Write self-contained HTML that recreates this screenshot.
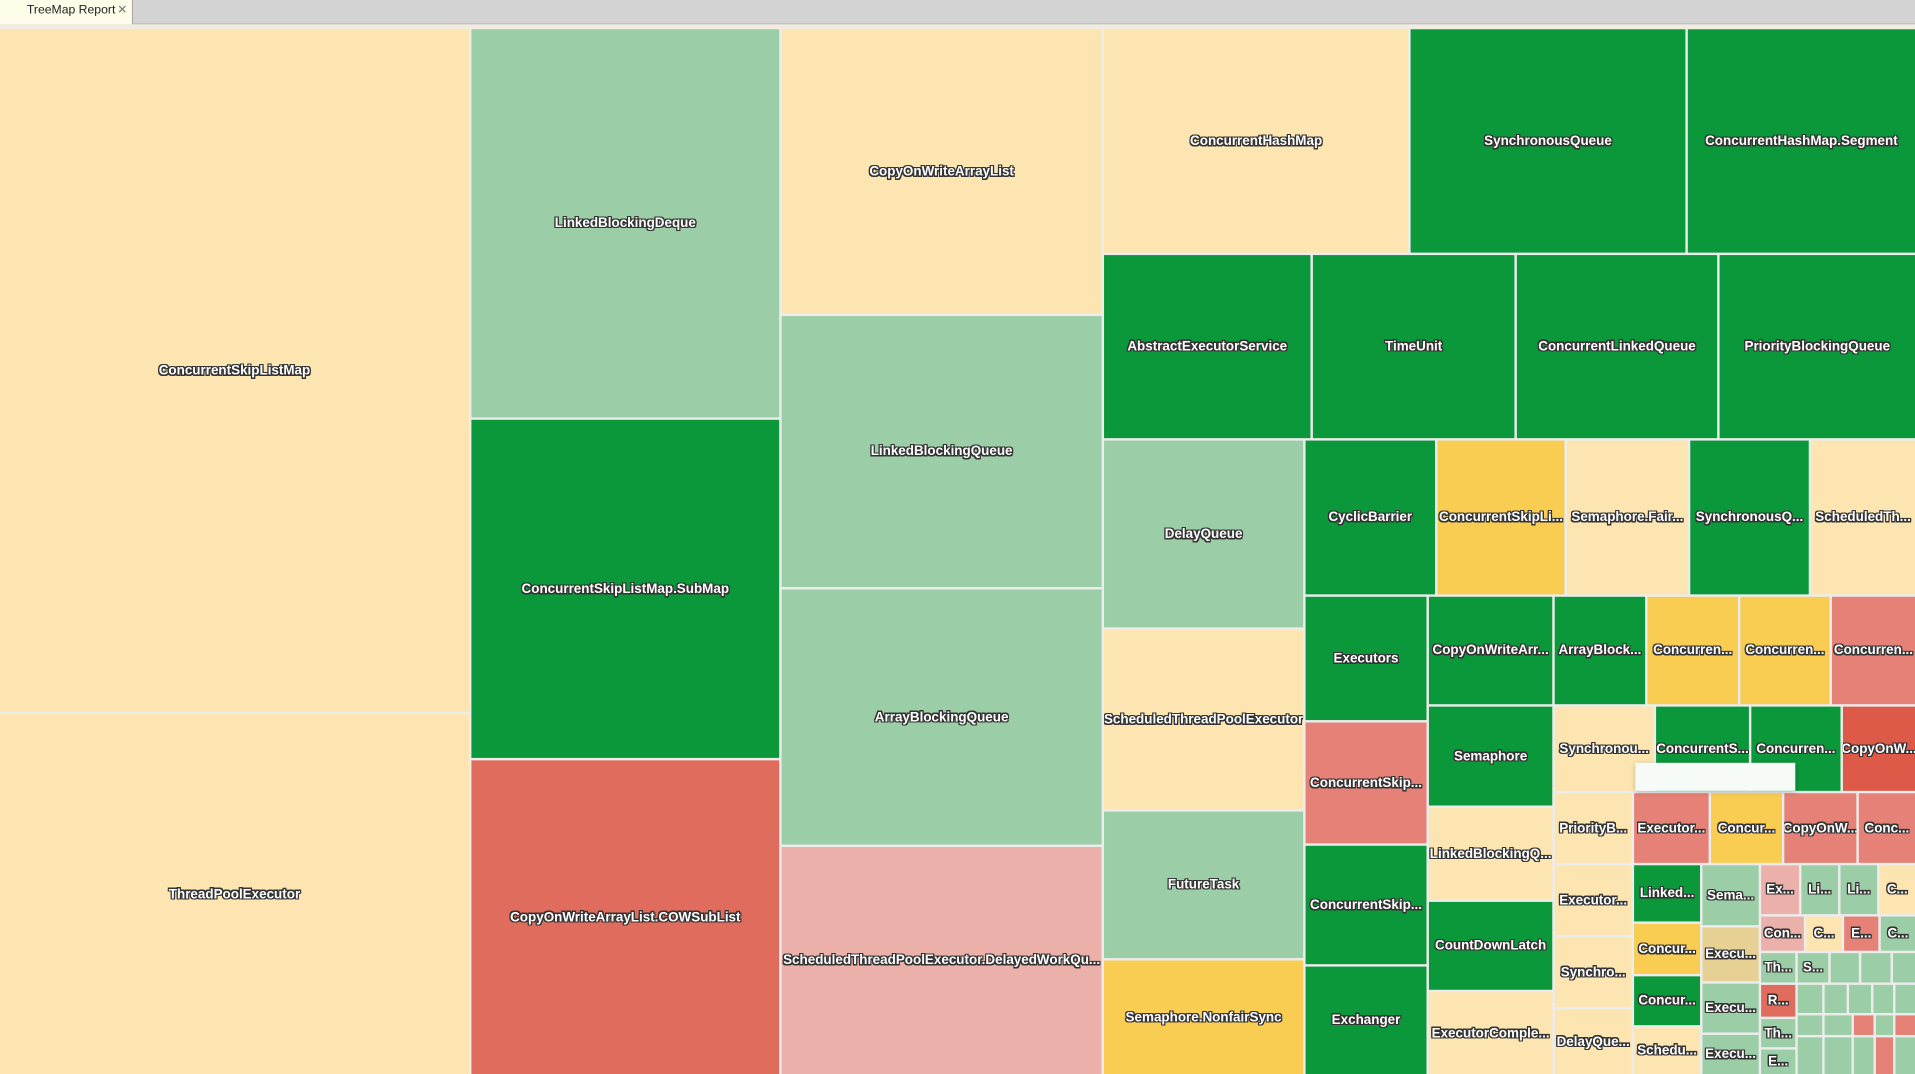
<!DOCTYPE html>
<html><head><meta charset="utf-8"><style>
html,body{margin:0;padding:0;overflow:hidden;background:#ececec}
#w{position:absolute;left:0;top:0;width:1568px;height:880px;transform-origin:0 0;transform:scale(1.22130,1.22045);background:#ececec}
.c{position:absolute;display:flex;align-items:center;justify-content:center;overflow:hidden;white-space:nowrap;font:bold 11px "Liberation Sans",sans-serif;color:#fff;text-shadow:1px 0 0 #333,-1px 0 0 #333,0 1px 0 #333,0 -1px 0 #333,1px 1px 0 #333,-1px -1px 0 #333,1px -1px 0 #333,-1px 1px 0 #333}
.cr{background:#fce5b0}.lg{background:#9bcda6}.g{background:#0b983a}.r{background:#e06c5e}.pk{background:#ecb0aa}.y{background:#f9cc52}.s{background:#e58176}.rr{background:#dc5a47}.t{background:#e6d093}
#bar{position:absolute;left:0;top:0;width:1568px;height:19px;background:#d3d3d3;border-bottom:1px solid #bdbdbd}
#tab{position:absolute;left:0;top:0;width:108px;height:20px;background:#fefde9;border-right:1px solid #aaa;font:10px "Liberation Sans",sans-serif;color:#222;line-height:18px}
#strip{position:absolute;left:0;top:20px;width:1568px;height:4px;background:#f0ede0}
</style></head><body><div id="w">
<div id="bar"></div><div id="tab"><span style="position:absolute;left:22px">TreeMap Report</span><span style="position:absolute;left:96px;color:#777">✕</span></div><div id="strip"></div>

<div class="c cr" style="left:0;top:24px;width:384px;height:559px">ConcurrentSkipListMap</div>
<div class="c cr" style="left:0;top:585px;width:384px;height:295px">ThreadPoolExecutor</div>

<div class="c lg" style="left:386px;top:24px;width:252px;height:318px">LinkedBlockingDeque</div>
<div class="c g" style="left:386px;top:344px;width:252px;height:277px">ConcurrentSkipListMap.SubMap</div>
<div class="c r" style="left:386px;top:623px;width:252px;height:257px">CopyOnWriteArrayList.COWSubList</div>

<div class="c cr" style="left:640px;top:24px;width:262px;height:233px">CopyOnWriteArrayList</div>
<div class="c lg" style="left:640px;top:259px;width:262px;height:222px">LinkedBlockingQueue</div>
<div class="c lg" style="left:640px;top:483px;width:262px;height:209px">ArrayBlockingQueue</div>
<div class="c pk" style="left:640px;top:694px;width:262px;height:186px">ScheduledThreadPoolExecutor.DelayedWorkQu...</div>

<div class="c cr" style="left:904px;top:24px;width:249px;height:183px">ConcurrentHashMap</div>
<div class="c g" style="left:1155px;top:24px;width:225px;height:183px">SynchronousQueue</div>
<div class="c g" style="left:1382px;top:24px;width:186px;height:183px">ConcurrentHashMap.Segment</div>

<div class="c g" style="left:904px;top:209px;width:169px;height:150px">AbstractExecutorService</div>
<div class="c g" style="left:1075px;top:209px;width:165px;height:150px">TimeUnit</div>
<div class="c g" style="left:1242px;top:209px;width:164px;height:150px">ConcurrentLinkedQueue</div>
<div class="c g" style="left:1408px;top:209px;width:160px;height:150px">PriorityBlockingQueue</div>

<div class="c lg" style="left:904px;top:361px;width:163px;height:153px">DelayQueue</div>
<div class="c cr" style="left:904px;top:516px;width:163px;height:147px">ScheduledThreadPoolExecutor</div>
<div class="c lg" style="left:904px;top:665px;width:163px;height:120px">FutureTask</div>
<div class="c y" style="left:904px;top:787px;width:163px;height:93px">Semaphore.NonfairSync</div>

<div class="c g" style="left:1069px;top:361px;width:106px;height:126px">CyclicBarrier</div>
<div class="c y" style="left:1177px;top:361px;width:104px;height:126px">ConcurrentSkipLi...</div>
<div class="c cr" style="left:1283px;top:361px;width:99px;height:126px">Semaphore.Fair...</div>
<div class="c g" style="left:1384px;top:361px;width:97px;height:126px">SynchronousQ...</div>
<div class="c cr" style="left:1483px;top:361px;width:85px;height:126px">ScheduledTh...</div>

<div class="c g" style="left:1069px;top:489px;width:99px;height:101px">Executors</div>
<div class="c s" style="left:1069px;top:592px;width:99px;height:99px">ConcurrentSkip...</div>
<div class="c g" style="left:1069px;top:693px;width:99px;height:97px">ConcurrentSkip...</div>
<div class="c g" style="left:1069px;top:792px;width:99px;height:88px">Exchanger</div>

<div class="c g" style="left:1170px;top:489px;width:101px;height:88px">CopyOnWriteArr...</div>
<div class="c g" style="left:1170px;top:579px;width:101px;height:81px">Semaphore</div>
<div class="c cr" style="left:1170px;top:662px;width:101px;height:75px">LinkedBlockingQ...</div>
<div class="c g" style="left:1170px;top:739px;width:101px;height:72px">CountDownLatch</div>
<div class="c cr" style="left:1170px;top:813px;width:101px;height:67px">ExecutorComple...</div>

<div class="c g" style="left:1273px;top:489px;width:74px;height:88px">ArrayBlock...</div>
<div class="c y" style="left:1349px;top:489px;width:74px;height:88px">Concurren...</div>
<div class="c y" style="left:1425px;top:489px;width:73px;height:88px">Concurren...</div>
<div class="c s" style="left:1500px;top:489px;width:68px;height:88px">Concurren...</div>

<div class="c cr" style="left:1273px;top:579px;width:81px;height:69px">Synchronou...</div>
<div class="c g" style="left:1356px;top:579px;width:76px;height:69px">ConcurrentS...</div>
<div class="c g" style="left:1434px;top:579px;width:73px;height:69px">Concurren...</div>
<div class="c rr" style="left:1509px;top:579px;width:59px;height:69px">CopyOnW...</div>

<div class="c cr" style="left:1273px;top:650px;width:63px;height:57px">PriorityB...</div>
<div class="c cr" style="left:1273px;top:709px;width:63px;height:57px">Executor...</div>
<div class="c cr" style="left:1273px;top:768px;width:63px;height:57px">Synchro...</div>
<div class="c cr" style="left:1273px;top:827px;width:63px;height:53px">DelayQue...</div>

<div class="c s" style="left:1338px;top:650px;width:61px;height:57px">Executor...</div>
<div class="c y" style="left:1401px;top:650px;width:58px;height:57px">Concur...</div>
<div class="c s" style="left:1461px;top:650px;width:59px;height:57px">CopyOnW...</div>
<div class="c s" style="left:1522px;top:650px;width:46px;height:57px">Conc...</div>

<div class="c g" style="left:1338px;top:709px;width:54px;height:46px">Linked...</div>
<div class="c y" style="left:1338px;top:757px;width:54px;height:41px">Concur...</div>
<div class="c g" style="left:1338px;top:800px;width:54px;height:40px">Concur...</div>
<div class="c cr" style="left:1338px;top:842px;width:54px;height:38px">Schedu...</div>

<div class="c lg" style="left:1394px;top:709px;width:46px;height:49px">Sema...</div>
<div class="c t" style="left:1394px;top:760px;width:46px;height:44px">Execu...</div>
<div class="c lg" style="left:1394px;top:806px;width:46px;height:40px">Execu...</div>
<div class="c lg" style="left:1394px;top:848px;width:46px;height:32px">Execu...</div>

<div class="c pk" style="left:1442px;top:709px;width:31px;height:40px">Ex...</div>
<div class="c lg" style="left:1475px;top:709px;width:30px;height:40px">Li...</div>
<div class="c lg" style="left:1507px;top:709px;width:30px;height:40px">Li...</div>
<div class="c cr" style="left:1539px;top:709px;width:29px;height:40px">C...</div>

<div class="c pk" style="left:1442px;top:751px;width:35px;height:28px">Con...</div>
<div class="c cr" style="left:1479px;top:751px;width:29px;height:28px">C...</div>
<div class="c s" style="left:1510px;top:751px;width:28px;height:28px">E...</div>
<div class="c lg" style="left:1540px;top:751px;width:28px;height:28px">C...</div>

<div class="c lg" style="left:1442px;top:781px;width:28px;height:24px">Th...</div>
<div class="c r" style="left:1442px;top:807px;width:28px;height:26px">R...</div>
<div class="c lg" style="left:1442px;top:835px;width:28px;height:23px">Th...</div>
<div class="c lg" style="left:1442px;top:860px;width:28px;height:20px">E...</div>

<div class="c lg" style="left:1472px;top:781px;width:25px;height:24px">S...</div>
<div class="c lg" style="left:1499px;top:781px;width:23px;height:24px"></div>
<div class="c lg" style="left:1524px;top:781px;width:24px;height:24px"></div>
<div class="c lg" style="left:1550px;top:781px;width:18px;height:24px"></div>

<div class="c lg" style="left:1472px;top:807px;width:20px;height:23px"></div>
<div class="c lg" style="left:1494px;top:807px;width:18px;height:23px"></div>
<div class="c lg" style="left:1514px;top:807px;width:18px;height:23px"></div>
<div class="c lg" style="left:1534px;top:807px;width:16px;height:23px"></div>
<div class="c lg" style="left:1552px;top:807px;width:16px;height:23px"></div>

<div class="c lg" style="left:1472px;top:832px;width:20px;height:16px"></div>
<div class="c lg" style="left:1494px;top:832px;width:22px;height:16px"></div>
<div class="c s" style="left:1518px;top:832px;width:16px;height:16px"></div>
<div class="c lg" style="left:1536px;top:832px;width:14px;height:16px"></div>
<div class="c s" style="left:1552px;top:832px;width:16px;height:16px"></div>

<div class="c lg" style="left:1472px;top:850px;width:20px;height:30px"></div>
<div class="c lg" style="left:1494px;top:850px;width:22px;height:30px"></div>
<div class="c lg" style="left:1518px;top:850px;width:16px;height:30px"></div>
<div class="c s" style="left:1536px;top:850px;width:14px;height:30px"></div>
<div class="c lg" style="left:1552px;top:850px;width:16px;height:30px"></div>

<div style="position:absolute;left:1339px;top:625px;width:131px;height:23px;background:#f6fbf8;box-shadow:0 1px 4px rgba(0,0,0,.25)"></div>
</div></body></html>
